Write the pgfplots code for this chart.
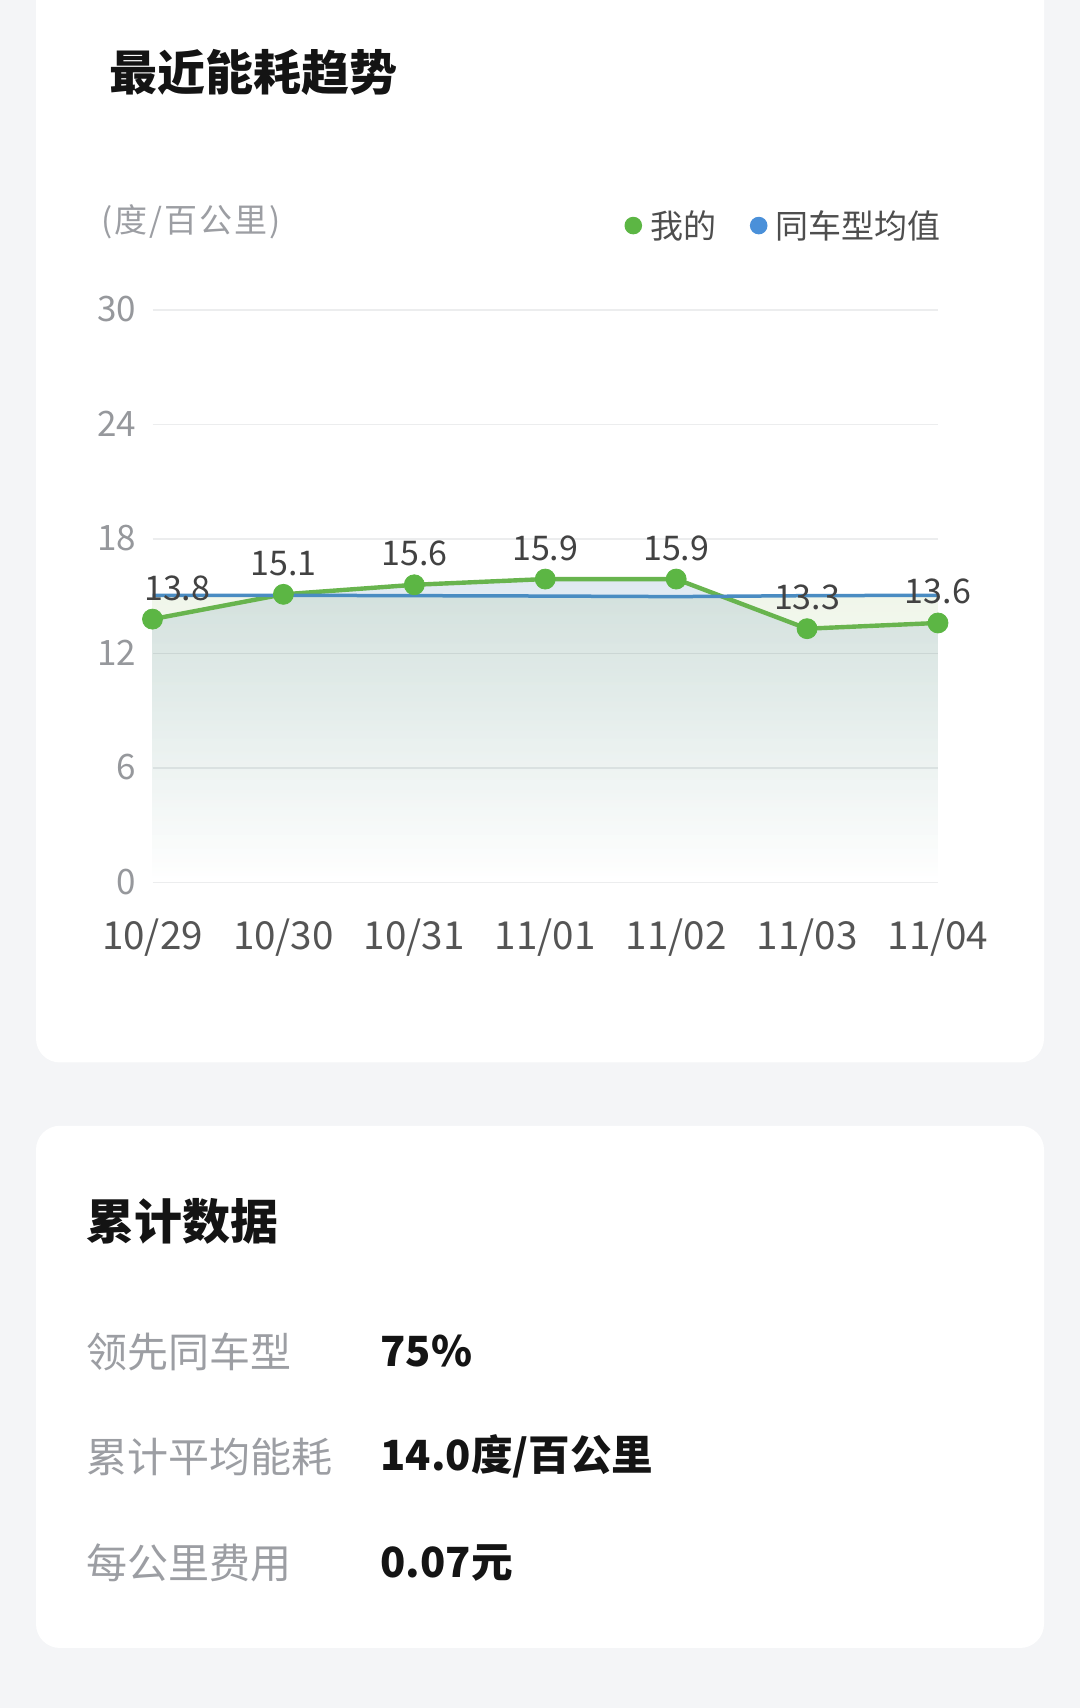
\documentclass[border=0pt]{standalone}
\usepackage{fontspec}
\setmainfont{Noto Sans CJK SC}
\usepackage{pgfplots}
\pgfplotsset{compat=1.18}
\usepackage{pgfplotstable}

\definecolor{bgc}{RGB}{244,245,247}
\definecolor{titlec}{RGB}{20,20,20}
\definecolor{unitc}{RGB}{156,158,163}
\definecolor{legc}{RGB}{78,78,78}
\definecolor{ytc}{RGB}{150,152,156}
\definecolor{xtc}{RGB}{85,85,85}
\definecolor{labc}{RGB}{66,66,66}
\definecolor{gridc}{RGB}{236,237,238}
\definecolor{greenl}{RGB}{104,180,78}
\definecolor{greenm}{RGB}{92,182,68}
\definecolor{bluel}{RGB}{74,140,194}
\definecolor{bluem}{RGB}{74,144,217}
\definecolor{fillA}{RGB}{224,233,242}
\definecolor{fillB}{RGB}{240,246,234}
\definecolor{rowlab}{RGB}{156,158,163}

\pgfplotstableread{
x y lab dx
0 13.8 13.8 12.35
1 15.1 15.1 0
2 15.6 15.6 0
3 15.9 15.9 0
4 15.9 15.9 0
5 13.3 13.3 0
6 13.6 13.6 0
}\mine

\pgfplotstableread{
x y
0 15.05
1 15.05
2 15.03
3 15.01
4 14.98
5 15.03
6 15.05
}\avg

\begin{document}
\begin{tikzpicture}[x=1pt,y=1pt]
\clip (0,0) rectangle (540,854);
\fill[bgc] (0,0) rectangle (540,854);
\fill[white, rounded corners=12pt] (18,322.75) rectangle (522,890);
\fill[white, rounded corners=12pt] (18,30) rectangle (522,291.1);

\node[anchor=west, inner sep=0pt, font=\fontsize{24}{28}\selectfont\bfseries, text=titlec] at (54.5,817.6) {最近能耗趋势};
\node[anchor=west, inner sep=0pt, font=\fontsize{16.5}{20}\selectfont\addfontfeature{LetterSpace=6}, text=unitc] at (50.5,743.25) {(度/百公里)};

\fill[greenm] (316.65,741.2) circle (4.4);
\node[anchor=west, inner sep=0pt, font=\fontsize{16.5}{20}\selectfont, text=legc] at (325,741.2) {我的};
\fill[bluem] (379.35,741.2) circle (4.4);
\node[anchor=west, inner sep=0pt, font=\fontsize{16.5}{20}\selectfont, text=legc] at (387.5,741.2) {同车型均值};

\begin{axis}[
  at={(76.25pt,412.75pt)}, anchor=south west,
  scale only axis, width=392.75pt, height=286.25pt,
  xmin=0, xmax=6, ymin=0, ymax=30,
  axis line style={draw=none},
  major tick length=0pt,
  ytick={0,6,12,18,24,30},
  xtick={0,1,2,3,4,5,6},
  xticklabels={10/29,10/30,10/31,11/01,11/02,11/03,11/04},
  ymajorgrids,
  grid style={line width=0.75pt, color=gridc},
  /pgf/number format/assume math mode=true,
  yticklabel style={anchor=base east, inner sep=0pt, xshift=-7.9pt, yshift=-5.85pt, font=\fontsize{17.5}{20}\selectfont, text=ytc},
  xticklabel style={anchor=base, inner sep=0pt, yshift=-33.75pt, font=\fontsize{19.3}{22}\selectfont, text=xtc},
  clip=false,
]
\addplot[draw=none, top color=fillA, bottom color=white, blend mode=multiply] table[x=x,y=y]{\mine} \closedcycle;
\addplot[draw=none, top color=fillB, bottom color=white, blend mode=multiply] table[x=x,y=y]{\avg} \closedcycle;
\addplot[color=greenl, line width=2.2pt, mark=none,
  nodes near coords, point meta=explicit symbolic,
  visualization depends on={\thisrow{dx} \as \dx},
  nodes near coords style={anchor=base, inner sep=0pt, yshift=9.5pt, xshift=\dx pt, font=\fontsize{17}{20}\selectfont, text=labc}]
  table[x=x,y=y,meta=lab]{\mine};
\addplot[color=bluel, line width=1.75pt, mark=none] table[x=x,y=y]{\avg};
\addplot[only marks, mark=*, mark size=5pt, mark options={fill=greenm, draw=greenm}] table[x=x,y=y]{\mine};
\end{axis}

\node[anchor=west, inner sep=0pt, font=\fontsize{24}{28}\selectfont\bfseries, text=titlec] at (43,243.5) {累计数据};

\node[anchor=west, inner sep=0pt, font=\fontsize{20.5}{24}\selectfont, text=rowlab] at (43,178.25) {领先同车型};
\node[anchor=west, inner sep=0pt, font=\fontsize{20.8}{24}\selectfont\bfseries, text=titlec] at (190,178.25) {75\%};
\node[anchor=west, inner sep=0pt, font=\fontsize{20.5}{24}\selectfont, text=rowlab] at (43,125.75) {累计平均能耗};
\node[anchor=west, inner sep=0pt, font=\fontsize{20.8}{24}\selectfont\bfseries, text=titlec] at (190,125.75) {14.0度/百公里};
\node[anchor=west, inner sep=0pt, font=\fontsize{20.5}{24}\selectfont, text=rowlab] at (43,72.5) {每公里费用};
\node[anchor=west, inner sep=0pt, font=\fontsize{20.8}{24}\selectfont\bfseries, text=titlec] at (190,72.5) {0.07元};
\end{tikzpicture}
\end{document}
